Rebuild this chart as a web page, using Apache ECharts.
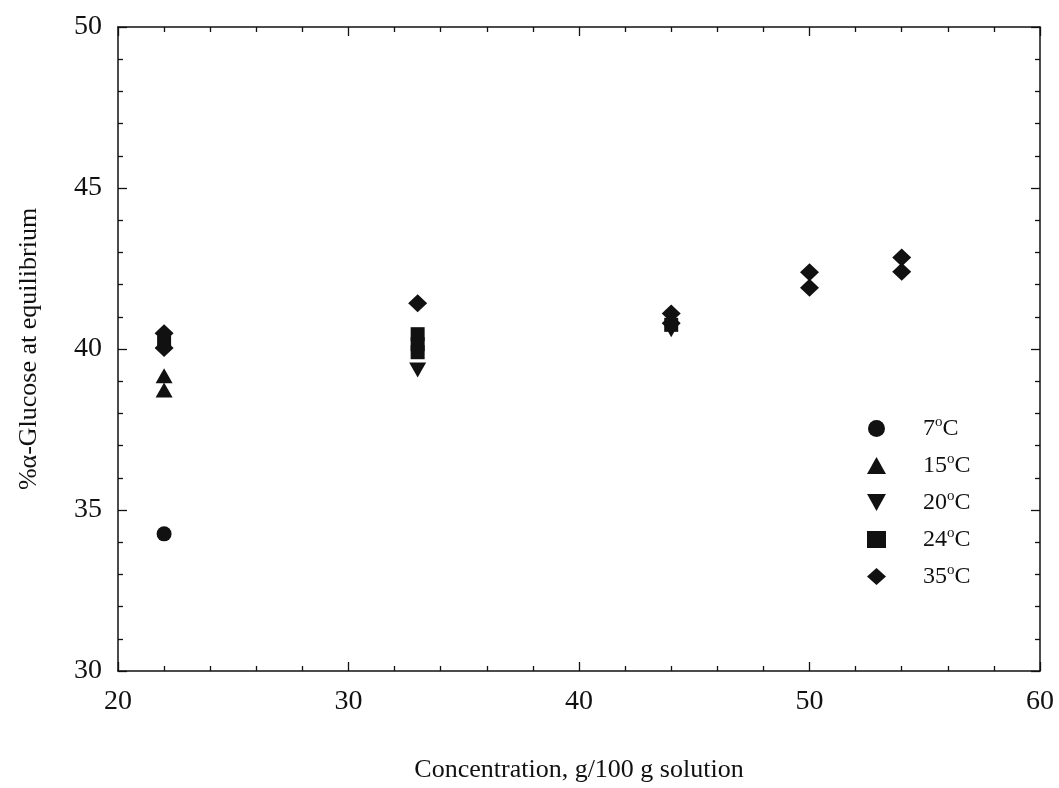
<!DOCTYPE html>
<html>
<head>
<meta charset="utf-8">
<script src="https://cdn.jsdelivr.net/npm/echarts@6/dist/echarts.min.js"></script>
<style>html,body{margin:0;padding:0;background:#fff}#c{width:1059px;height:788px}</style>
</head>
<body>
<div id="c"></div>
<script>
// Data: [concentration, % alpha-glucose]
const seriesNames = ['7°C', '15°C', '20°C', '24°C', '35°C'];
const data7 = [[22, 34.26]];
const data15 = [[22, 39.17], [22, 38.73]];
const data20 = [[33, 39.35], [44, 40.6]];
const data24 = [[22, 40.2], [33, 40.46], [33, 40.15], [33, 39.9], [44, 40.75]];
const data35 = [[22, 40.49], [22, 40.03], [33, 41.42], [44, 41.1], [44, 40.8], [50, 42.38], [50, 41.9], [54, 42.84], [54, 42.4]];
const xTicks = [20, 30, 40, 50, 60];
const yTicks = [30, 35, 40, 45, 50];

const ink = '#111111';
const font = 'Liberation Serif';
const downTri = 'path://M0,0 L10,0 L5,9 Z';

const symbols = ['circle', 'triangle', downTri, 'rect', 'diamond'];
const sizes = [[15, 15], [17, 15], [17, 15], [14, 14], [19, 18]];
const allData = [data7, data15, data20, data24, data35];

const series = allData.map((d, i) => ({
  name: seriesNames[i],
  type: 'scatter',
  data: d,
  symbol: symbols[i],
  symbolSize: sizes[i],
  itemStyle: { color: ink, opacity: 1 },
  xAxisIndex: 0, yAxisIndex: 0
}));

const baseAxisLine = { show: true, lineStyle: { color: ink, width: 1.5 } };
const tickStyle = { show: true, inside: true, length: 9, lineStyle: { color: ink, width: 1.3 } };
const minorStyle = { show: true, splitNumber: 5, length: 5, lineStyle: { color: ink, width: 1.3 } };

const chart = echarts.init(document.getElementById('c'));
chart.setOption({
  animation: false,
  backgroundColor: '#fff',
  grid: { left: 118, right: 19, top: 27, bottom: 113 },
  xAxis: [{
    type: 'value', min: xTicks[0], max: xTicks[xTicks.length - 1], interval: 10,
    position: 'bottom',
    name: 'Concentration, g/100 g solution', nameLocation: 'middle', nameGap: 86,
    nameTextStyle: { fontFamily: font, fontSize: 26, color: ink },
    axisLine: baseAxisLine,
    axisTick: tickStyle,
    minorTick: minorStyle,
    axisLabel: { fontFamily: font, fontSize: 28, color: ink, margin: 17 },
    splitLine: { show: false }
  }, {
    type: 'value', min: xTicks[0], max: xTicks[xTicks.length - 1], interval: 10,
    position: 'top',
    axisLine: baseAxisLine,
    axisTick: tickStyle,
    minorTick: minorStyle,
    axisLabel: { show: false },
    splitLine: { show: false }
  }],
  yAxis: [{
    type: 'value', min: yTicks[0], max: yTicks[yTicks.length - 1], interval: 5,
    position: 'left',
    name: '%\u03b1-Glucose at equilibrium', nameLocation: 'middle', nameGap: 76, nameRotate: 90,
    nameTextStyle: { fontFamily: font, fontSize: 26, color: ink },
    axisLine: baseAxisLine,
    axisTick: tickStyle,
    minorTick: minorStyle,
    axisLabel: { fontFamily: font, fontSize: 28, color: ink, margin: 16 },
    splitLine: { show: false }
  }, {
    type: 'value', min: yTicks[0], max: yTicks[yTicks.length - 1], interval: 5,
    position: 'right',
    axisLine: baseAxisLine,
    axisTick: tickStyle,
    minorTick: minorStyle,
    axisLabel: { show: false },
    splitLine: { show: false }
  }],
  legend: {
    orient: 'vertical',
    left: 862, top: 410,
    itemWidth: 19, itemHeight: 17, itemGap: 10,
    data: seriesNames.map((n, i) => ({ name: n, icon: symbols[i], itemStyle: { color: ink, opacity: 1 } })),
    formatter: (n) => n.replace('°', '{s|o}'),
    textStyle: {
      fontFamily: font, fontSize: 24, color: ink, padding: [0, 0, 0, 32], lineHeight: 27,
      rich: { s: { fontFamily: font, fontSize: 15, color: ink, verticalAlign: 'top', lineHeight: 15, padding: [0, 0, 10, 0] } }
    },
    selectedMode: false
  },
  series: series
});
</script>
</body>
</html>
